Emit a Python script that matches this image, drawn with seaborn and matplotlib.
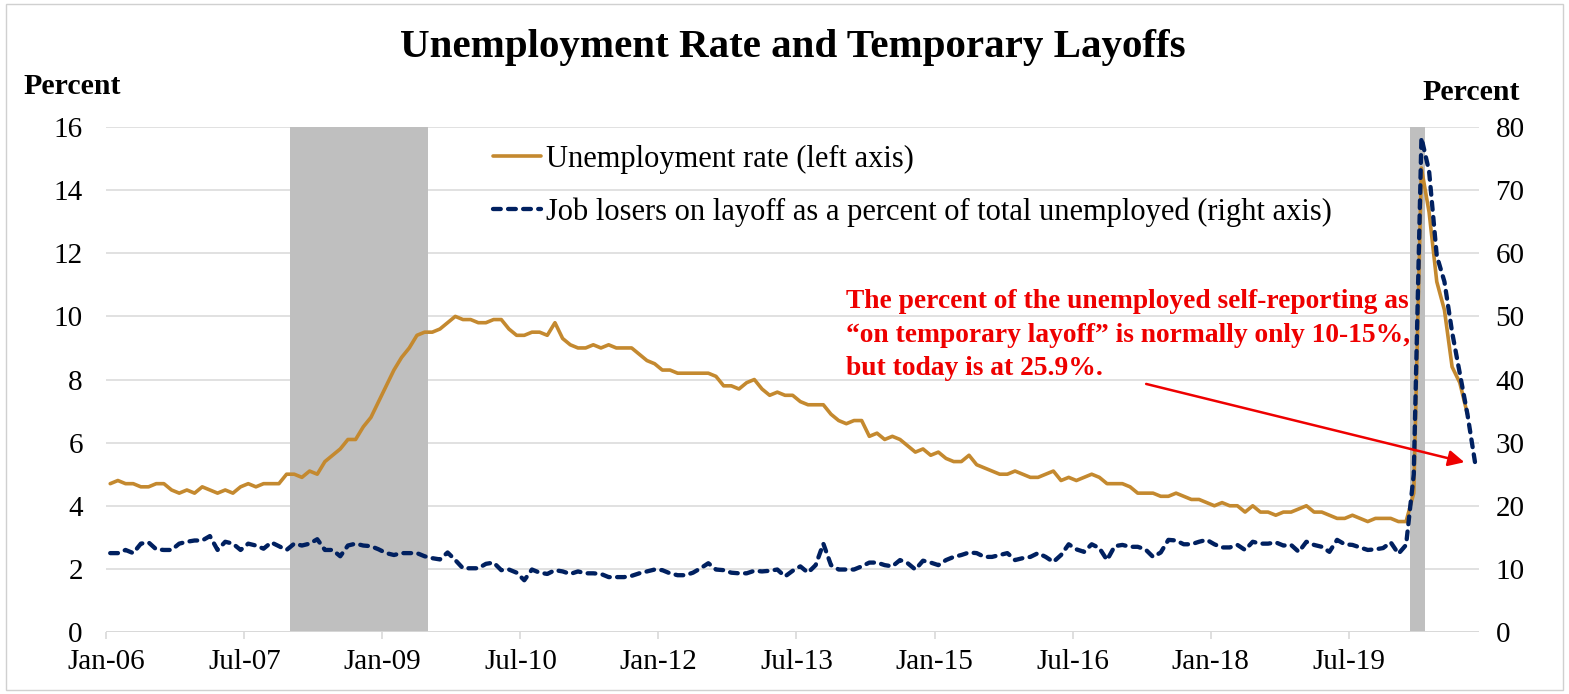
import numpy as np
import pandas as pd
import matplotlib
matplotlib.use("Agg")
import matplotlib.pyplot as plt
import seaborn as sns
from matplotlib.lines import Line2D
from matplotlib.patches import Rectangle

# monthly data, Jan-06 onwards
unemp_rate = [
    4.7, 4.8, 4.7, 4.7, 4.6, 4.6, 4.7, 4.7, 4.5, 4.4, 4.5, 4.4,
    4.6, 4.5, 4.4, 4.5, 4.4, 4.6, 4.7, 4.6, 4.7, 4.7, 4.7, 5.0,
    5.0, 4.9, 5.1, 5.0, 5.4, 5.6, 5.8, 6.1, 6.1, 6.5, 6.8, 7.3,
    7.8, 8.3, 8.7, 9.0, 9.4, 9.5, 9.5, 9.6, 9.8, 10.0, 9.9, 9.9,
    9.8, 9.8, 9.9, 9.9, 9.6, 9.4, 9.4, 9.5, 9.5, 9.4, 9.8, 9.3,
    9.1, 9.0, 9.0, 9.1, 9.0, 9.1, 9.0, 9.0, 9.0, 8.8, 8.6, 8.5,
    8.3, 8.3, 8.2, 8.2, 8.2, 8.2, 8.2, 8.1, 7.8, 7.8, 7.7, 7.9,
    8.0, 7.7, 7.5, 7.6, 7.5, 7.5, 7.3, 7.2, 7.2, 7.2, 6.9, 6.7,
    6.6, 6.7, 6.7, 6.2, 6.3, 6.1, 6.2, 6.1, 5.9, 5.7, 5.8, 5.6,
    5.7, 5.5, 5.4, 5.4, 5.6, 5.3, 5.2, 5.1, 5.0, 5.0, 5.1, 5.0,
    4.9, 4.9, 5.0, 5.1, 4.8, 4.9, 4.8, 4.9, 5.0, 4.9, 4.7, 4.7,
    4.7, 4.6, 4.4, 4.4, 4.4, 4.3, 4.3, 4.4, 4.3, 4.2, 4.2, 4.1,
    4.0, 4.1, 4.0, 4.0, 3.8, 4.0, 3.8, 3.8, 3.7, 3.8, 3.8, 3.9,
    4.0, 3.8, 3.8, 3.7, 3.6, 3.6, 3.7, 3.6, 3.5, 3.6, 3.6, 3.6,
    3.5, 3.5, 4.4, 14.7, 13.3, 11.1, 10.2, 8.4, 7.9, 6.9,
]

temp_layoff_share = [
    12.5, 12.5, 13.0, 12.5, 14.0, 14.2, 13.1, 13.0, 13.0, 14.0, 14.3, 14.5,
    14.5, 15.2, 13.0, 14.3, 14.0, 13.0, 14.0, 13.7, 13.2, 14.2, 13.6, 13.0,
    14.0, 13.7, 14.0, 14.7, 13.0, 13.0, 12.0, 13.7, 14.0, 13.7, 13.6, 13.1,
    12.5, 12.2, 12.5, 12.5, 12.5, 12.0, 11.7, 11.5, 12.6, 11.4, 10.1, 10.1,
    10.1, 10.8, 11.0, 9.8, 9.9, 9.4, 8.2, 9.9, 9.4, 9.2, 9.8, 9.6,
    9.2, 9.6, 9.3, 9.3, 9.2, 8.7, 8.7, 8.7, 8.9, 9.3, 9.6, 9.9,
    9.8, 9.3, 9.0, 9.0, 9.4, 10.1, 10.9, 9.9, 9.8, 9.4, 9.3, 9.3,
    9.7, 9.6, 9.7, 9.9, 8.8, 9.7, 10.4, 9.4, 10.6, 14.0, 10.6, 9.9,
    9.9, 9.9, 10.4, 11.0, 11.0, 10.6, 10.4, 11.4, 10.9, 9.9, 11.3, 11.0,
    10.6, 11.4, 11.9, 12.2, 12.6, 12.5, 11.9, 11.9, 12.2, 12.5, 11.4, 11.7,
    11.9, 12.5, 11.9, 11.1, 12.2, 13.9, 13.1, 12.7, 13.9, 13.3, 11.4, 13.6,
    13.8, 13.5, 13.5, 13.1, 11.9, 12.6, 14.6, 14.5, 13.9, 13.9, 14.3, 14.6,
    13.9, 13.4, 13.4, 13.8, 13.0, 14.3, 14.0, 14.0, 14.2, 13.7, 13.8, 12.7,
    14.3, 13.8, 13.5, 12.7, 14.6, 13.9, 13.8, 13.4, 13.0, 13.1, 13.3, 14.2,
    12.4, 13.8, 25.0, 78.3, 73.0, 59.6, 55.5, 47.5, 41.0, 34.5, 26.8,
]

tick_labels = ["Jan-06", "Jul-07", "Jan-09", "Jul-10", "Jan-12",
               "Jul-13", "Jan-15", "Jul-16", "Jan-18", "Jul-19"]
recessions = [(23.5, 41.5), (169.5, 171.5)]  # Dec-07..Jun-09, Mar-20..Apr-20

GOLD = "#C4892F"
NAVY = "#002060"
RED = "#EE0000"
SERIF = ["Liberation Serif", "DejaVu Serif"]

sns.set_style("white")
plt.rcParams["font.family"] = SERIF
plt.rcParams["text.color"] = "black"

df_u = pd.DataFrame({"month": np.arange(len(unemp_rate)), "rate": unemp_rate})
df_l = pd.DataFrame({"month": np.arange(len(temp_layoff_share)), "share": temp_layoff_share})

fig = plt.figure(figsize=(15.69, 6.94), dpi=100)
ax = fig.add_axes([0.0678, 0.0893, 0.8748, 0.7277])
ax2 = ax.twinx()

for start, end in recessions:
    ax.axvspan(start, end, color="#BFBFBF", lw=0, zorder=1)

dash = (0, (1.8, 1.7))
sns.lineplot(data=df_u, x="month", y="rate", ax=ax, color=GOLD, lw=2.6, zorder=3)
sns.lineplot(data=df_l, x="month", y="share", ax=ax2, color=NAVY, lw=3.1,
             linestyle=dash, dash_capstyle="round", zorder=3)

ax.set_xlim(-0.5, 178.5)
ax.set_ylim(0, 16)
ax2.set_ylim(0, 80)
ax.set_yticks(range(0, 17, 2))
ax2.set_yticks(range(0, 81, 10))
ax.set_xticks([-0.5 + 18 * k for k in range(len(tick_labels))])
ax.set_xticklabels(tick_labels)

ax.set_axisbelow(True)
ax.grid(axis="y", color="#D9D9D9", lw=1.1)
ax.grid(axis="x", visible=False)
ax2.grid(False)
for a in (ax, ax2):
    for s in ("left", "right", "top", "bottom"):
        a.spines[s].set_visible(False)
    a.set_xlabel("")
    a.set_ylabel("")
ax.axhline(0, color="#D9D9D9", lw=1.3, zorder=2)

ax.tick_params(axis="x", length=5, color="#D9D9D9", width=1.2, pad=7,
               labelsize=21, labelcolor="black", bottom=True)
ax.tick_params(axis="y", length=0, pad=17, labelsize=21, labelcolor="black")
ax2.tick_params(axis="y", length=0, pad=12, labelsize=21, labelcolor="black")

fig.text(0.5054, 0.932, "Unemployment Rate and Temporary Layoffs", ha="center",
         va="center", fontsize=29.5, fontweight="bold")
fig.text(0.0459, 0.876, "Percent", ha="center", va="center", fontsize=21.5,
         fontweight="bold")
fig.text(0.9375, 0.867, "Percent", ha="center", va="center", fontsize=21.5,
         fontweight="bold")

handles = [
    Line2D([], [], color=GOLD, lw=2.6),
    Line2D([], [], color=NAVY, lw=3.1, linestyle=dash, dash_capstyle="round"),
]
labels = ["Unemployment rate (left axis)",
          "Job losers on layoff as a percent of total unemployed (right axis)"]
ax2.legend(handles, labels, loc="upper left",
           bbox_to_anchor=(0.297, 0.831), bbox_transform=fig.transFigure,
           frameon=False, fontsize=22, handlelength=1.55,
           handletextpad=0.18, labelspacing=0.77)

fig.text(0.539, 0.583,
         "The percent of the unemployed self-reporting as\n"
         "\u201con temporary layoff\u201d is normally only 10-15%,\n"
         "but today is at 25.9%.",
         ha="left", va="top", fontsize=19.8, fontweight="bold", color=RED,
         linespacing=1.45)

ax2.annotate("", xy=(176.6, 26.9), xytext=(135.1, 39.3),
             arrowprops=dict(arrowstyle="-|>", color=RED, lw=1.8,
                             mutation_scale=24, shrinkA=0, shrinkB=0),
             zorder=5)

fig.patches.append(Rectangle((0.004, 0.006), 0.992, 0.988, transform=fig.transFigure,
                             fill=False, edgecolor="#D0D0D0", lw=1))

fig.savefig("out.png", dpi=100)
